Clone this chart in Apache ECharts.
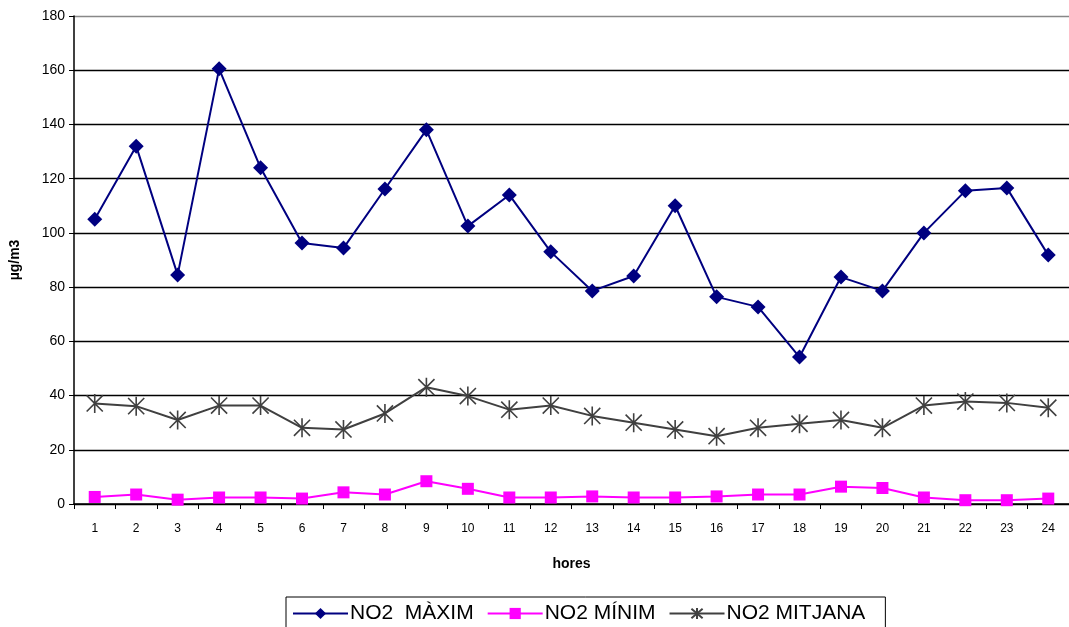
<!DOCTYPE html>
<html>
<head>
<meta charset="utf-8">
<script src="https://cdn.jsdelivr.net/npm/echarts@6/dist/echarts.min.js"></script>
<style>
html,body{margin:0;padding:0;background:#fff;}
#chart{width:1069px;height:627px;}
</style>
</head>
<body>
<div id="chart"></div>
<script>
// Hours of the day
const hores = ['1','2','3','4','5','6','7','8','9','10','11','12','13','14','15','16','17','18','19','20','21','22','23','24'];
// NO2 hourly values (µg/m3)
const no2Maxim = [105, 132, 84.5, 160.5, 124, 96.3, 94.4, 116.2, 138, 102.5, 114, 93, 78.6, 84.1, 110, 76.4, 72.7, 54.2, 83.7, 78.6, 100, 115.5, 116.6, 91.8];
const no2Minim = [2.6, 3.5, 1.6, 2.4, 2.4, 2.0, 4.3, 3.5, 8.4, 5.6, 2.4, 2.4, 2.8, 2.4, 2.4, 2.8, 3.5, 3.5, 6.4, 5.9, 2.4, 1.4, 1.4, 2.0];
const no2Mitjana = [37.1, 36.1, 31.0, 36.3, 36.3, 28.1, 27.5, 33.4, 43.1, 39.8, 34.8, 36.3, 32.5, 30.0, 27.5, 25.0, 28.1, 29.6, 31.0, 28.1, 36.3, 37.8, 37.3, 35.5];
// Axis settings
const yMin = 0, yMax = 180, yStep = 20;

// six-armed asterisk marker for the average series
const asterisk = 'path://M10,0 L10,20 M1.5,1.5 L18.5,18.5 M18.5,1.5 L1.5,18.5';

const chart = echarts.init(document.getElementById('chart'));
chart.setOption({
  animation: false,
  backgroundColor: '#ffffff',
  textStyle: { fontFamily: 'Liberation Sans, Arial, sans-serif' },
  grid: { left: 73, top: 16, width: 1001, height: 488 },
  xAxis: {
    type: 'category',
    data: hores,
    boundaryGap: true,
    name: 'hores',
    nameLocation: 'middle',
    nameGap: 53,
    nameTextStyle: { fontWeight: 'bold', fontSize: 14, color: '#000' },
    axisLine: { lineStyle: { color: '#000', width: 1.5 } },
    axisTick: { show: true, interval: 0, length: 5, lineStyle: { color: '#000' } },
    axisLabel: { interval: 0, fontSize: 12, color: '#000', margin: 19 },
    splitLine: { show: false }
  },
  yAxis: {
    type: 'value',
    min: yMin, max: yMax, interval: yStep,
    name: 'µg/m3',
    nameLocation: 'middle',
    nameGap: 52,
    nameRotate: 90,
    nameTextStyle: { fontWeight: 'bold', fontSize: 14, color: '#000' },
    axisLine: { show: true, lineStyle: { color: '#000', width: 1.5 } },
    axisTick: { show: true, length: 5, lineStyle: { color: '#000' } },
    axisLabel: { fontSize: 14, color: '#000', margin: 9 },
    splitLine: { show: true, lineStyle: { color: ['#000','#000','#000','#000','#000','#000','#000','#000','#000','#888'], width: 1.3 } }
  },
  legend: {
    left: 286, top: 597,
    orient: 'horizontal',
    borderColor: '#000', borderWidth: 1,
    padding: [6, 20, 8, 6],
    itemWidth: 55, itemHeight: 14, itemGap: 13,
    textStyle: { fontSize: 21, color: '#000', padding: [0, 0, 0, -3] },
    data: ['NO2  MÀXIM', 'NO2 MÍNIM', 'NO2 MITJANA']
  },
  series: [
    {
      name: 'NO2  MÀXIM', type: 'line', data: no2Maxim,
      symbol: 'diamond', symbolSize: 15,
      lineStyle: { color: '#000080', width: 2 },
      itemStyle: { color: '#000080' }
    },
    {
      name: 'NO2 MÍNIM', type: 'line', data: no2Minim,
      symbol: 'rect', symbolSize: 12,
      lineStyle: { color: '#ff00ff', width: 2 },
      itemStyle: { color: '#ff00ff' }
    },
    {
      name: 'NO2 MITJANA', type: 'line', data: no2Mitjana,
      symbol: asterisk, symbolSize: 19, symbolKeepAspect: true,
      lineStyle: { color: '#404040', width: 2 },
      itemStyle: { color: 'none', borderColor: '#404040', borderWidth: 1.6 }
    }
  ]
});
</script>
</body>
</html>
